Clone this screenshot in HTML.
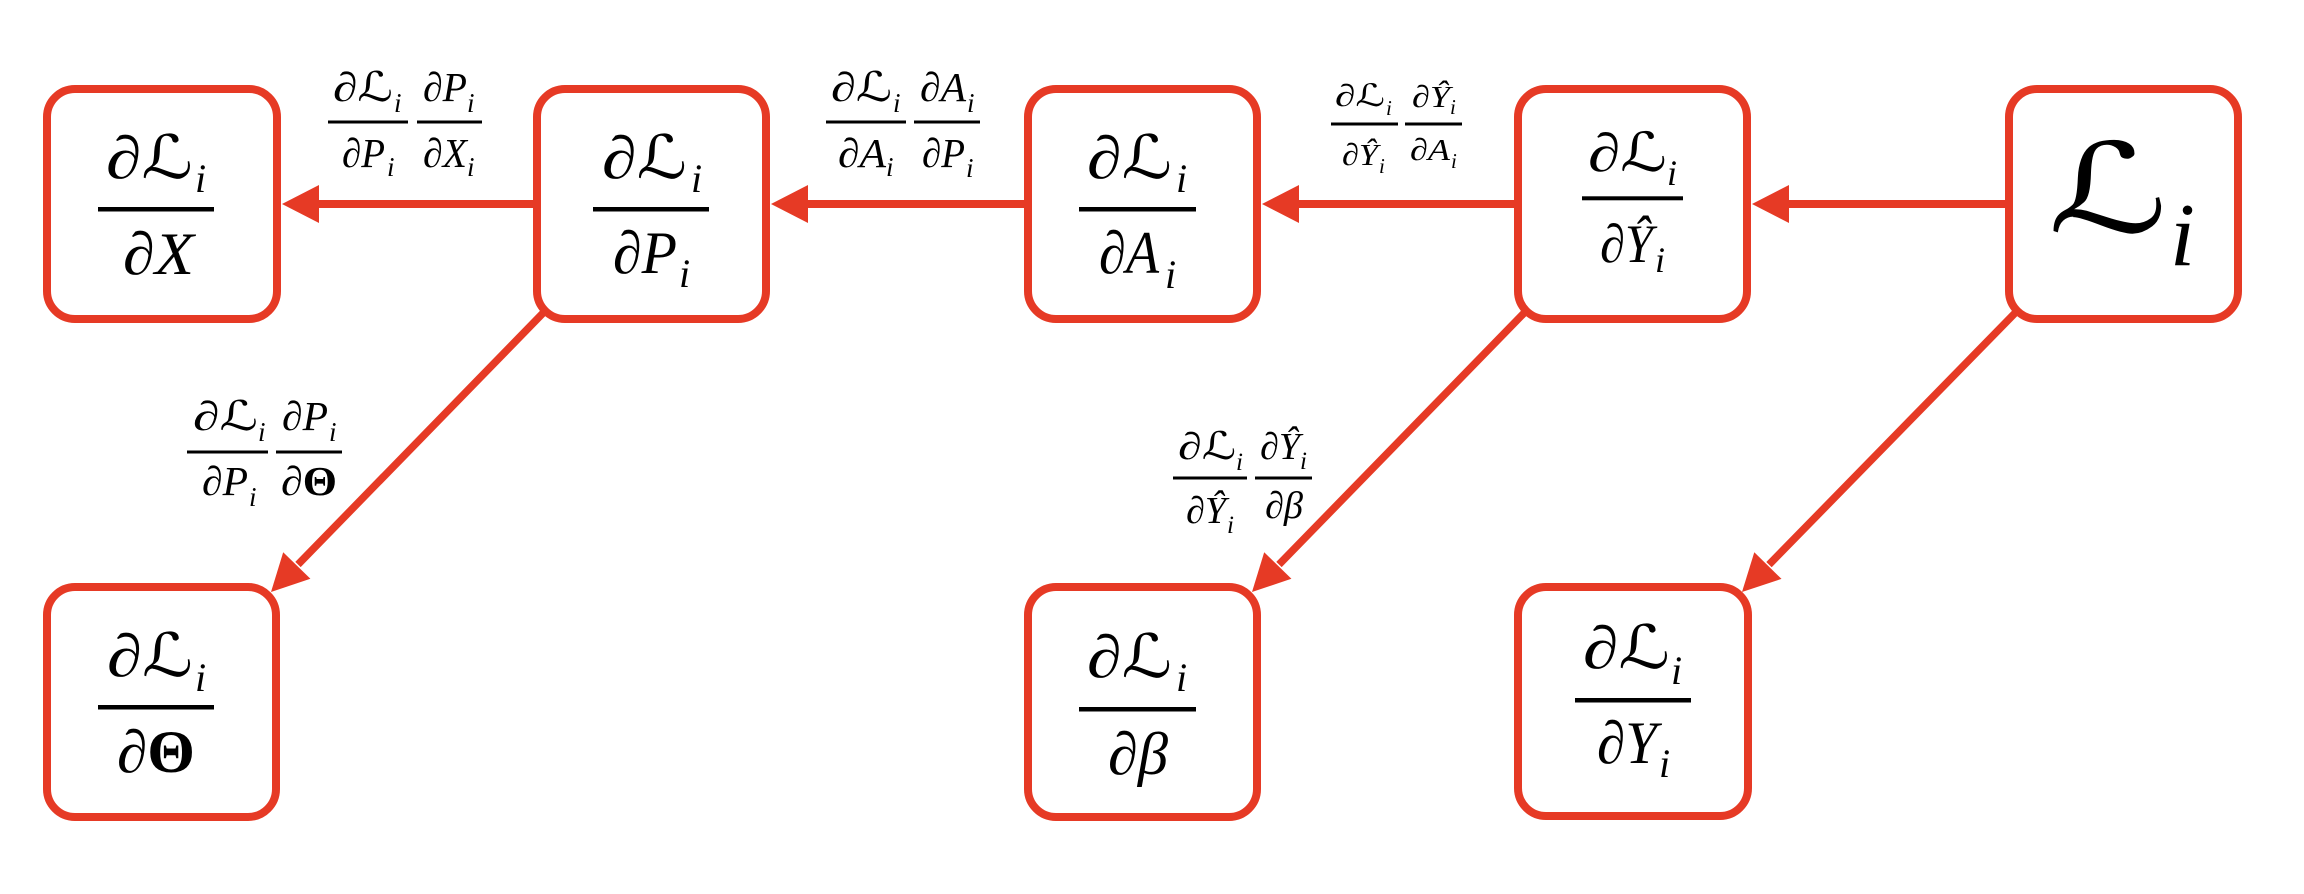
<!DOCTYPE html>
<html>
<head>
<meta charset="utf-8">
<style>
  html, body { margin:0; padding:0; background:#ffffff; }
  body { width:2304px; height:894px; overflow:hidden; }
  svg { display:block; }
  .m { font-family:"Liberation Serif","DejaVu Serif","DejaVu Sans",serif; font-style:italic; fill:#000; }
  .b { font-style:normal; font-weight:bold; }
  .s { font-family:"Liberation Serif","DejaVu Serif","DejaVu Sans",serif; font-style:normal; fill:#000; }
</style>
</head>
<body>
<svg width="2304" height="894" viewBox="0 0 2304 894" xmlns="http://www.w3.org/2000/svg">
  <rect x="0" y="0" width="2304" height="894" fill="#ffffff"/>

  <!-- ===== connectors ===== -->
  <g fill="#E63A25" stroke="none">
    <!-- horizontal arrows -->
    <rect x="318" y="200" width="220" height="8"/>
    <polygon points="282,204 319,185 319,223"/>
    <rect x="807" y="200" width="222" height="8"/>
    <polygon points="771,204 808,185 808,223"/>
    <rect x="1298" y="200" width="221" height="8"/>
    <polygon points="1262,204 1299,185 1299,223"/>
    <rect x="1788" y="200" width="222" height="8"/>
    <polygon points="1752,204 1789,185 1789,223"/>
    <!-- diagonal heads -->
    <polygon points="271,592 310.4,578.8 283.2,552.2"/>
    <polygon points="1252,592 1291.4,578.8 1264.2,552.2"/>
    <polygon points="1742,592 1781.5,578.9 1754.3,552.3"/>
  </g>
  <g stroke="#E63A25" stroke-width="7.5" fill="none">
    <line x1="546" y1="310" x2="298" y2="564.5"/>
    <line x1="1527" y1="310" x2="1279" y2="564.5"/>
    <line x1="2018" y1="310" x2="1769" y2="564.6"/>
  </g>

  <!-- ===== boxes ===== -->
  <g fill="#ffffff" stroke="#E63A25" stroke-width="8">
    <rect x="47" y="89" width="230" height="230" rx="28" ry="28"/>
    <rect x="537" y="89" width="229" height="230" rx="28" ry="28"/>
    <rect x="1028" y="89" width="229" height="230" rx="28" ry="28"/>
    <rect x="1518" y="89" width="229" height="230" rx="28" ry="28"/>
    <rect x="2009" y="89" width="229" height="230" rx="28" ry="28"/>
    <rect x="47" y="587" width="229" height="230" rx="28" ry="28"/>
    <rect x="1028" y="587" width="229" height="230" rx="28" ry="28"/>
    <rect x="1518" y="587" width="230" height="229" rx="28" ry="28"/>
  </g>

  <!-- ===== box contents ===== -->
  <g fill="#000">
    <!-- A: dL/dX -->
    <text class="m" x="106" y="178" font-size="60" textLength="87" lengthAdjust="spacingAndGlyphs">∂ℒ</text>
    <text class="m" x="195" y="192" font-size="40">i</text>
    <rect x="98" y="207" width="116" height="4.5"/>
    <text class="m" x="123" y="274" font-size="60" textLength="71" lengthAdjust="spacingAndGlyphs">∂X</text>

    <!-- B: dL/dP_i -->
    <text class="m" x="602" y="178" font-size="60" textLength="85" lengthAdjust="spacingAndGlyphs">∂ℒ</text>
    <text class="m" x="691" y="192" font-size="40">i</text>
    <rect x="593" y="207" width="116" height="4.5"/>
    <text class="m" x="613" y="273" font-size="60" textLength="64" lengthAdjust="spacingAndGlyphs">∂P</text>
    <text class="m" x="679" y="287" font-size="40">i</text>

    <!-- C: dL/dA_i -->
    <text class="m" x="1087" y="178" font-size="60" textLength="85" lengthAdjust="spacingAndGlyphs">∂ℒ</text>
    <text class="m" x="1176" y="192" font-size="40">i</text>
    <rect x="1079" y="207" width="117" height="4.5"/>
    <text class="m" x="1099" y="273" font-size="60" textLength="60" lengthAdjust="spacingAndGlyphs">∂A</text>
    <text class="m" x="1165" y="288" font-size="40">i</text>

    <!-- D: dL/dYhat_i -->
    <text class="m" x="1588" y="171" font-size="54" textLength="79" lengthAdjust="spacingAndGlyphs">∂ℒ</text>
    <text class="m" x="1667" y="185" font-size="36">i</text>
    <rect x="1582" y="196.3" width="101" height="4"/>
    <text class="m" x="1600" y="262" font-size="54" textLength="53" lengthAdjust="spacingAndGlyphs">∂Ŷ</text>
    <text class="m" x="1655" y="272" font-size="36">i</text>

    <!-- E: L_i -->
    <text class="s" x="2048" y="232" font-size="124" textLength="120" lengthAdjust="spacingAndGlyphs">ℒ</text>
    <text class="m" x="2170" y="265" font-size="90">i</text>

    <!-- F: dL/dTheta -->
    <text class="m" x="107" y="676" font-size="60" textLength="86" lengthAdjust="spacingAndGlyphs">∂ℒ</text>
    <text class="m" x="195" y="691" font-size="40">i</text>
    <rect x="98" y="705" width="116" height="4.5"/>
    <text class="m" x="117" y="772" font-size="60" textLength="78" lengthAdjust="spacingAndGlyphs">∂<tspan class="b">Θ</tspan></text>

    <!-- G: dL/dbeta -->
    <text class="m" x="1087" y="677" font-size="60" textLength="85" lengthAdjust="spacingAndGlyphs">∂ℒ</text>
    <text class="m" x="1176" y="691" font-size="40">i</text>
    <rect x="1079" y="707" width="117" height="4.5"/>
    <text class="m" x="1108" y="774" font-size="60" textLength="60" lengthAdjust="spacingAndGlyphs">∂β</text>

    <!-- H: dL/dY_i -->
    <text class="m" x="1583" y="668" font-size="60" textLength="87" lengthAdjust="spacingAndGlyphs">∂ℒ</text>
    <text class="m" x="1671" y="684" font-size="40">i</text>
    <rect x="1575" y="698" width="116" height="4.5"/>
    <text class="m" x="1597" y="763" font-size="60" textLength="60" lengthAdjust="spacingAndGlyphs">∂Y</text>
    <text class="m" x="1659" y="777" font-size="40">i</text>
  </g>

  <!-- ===== edge labels ===== -->
  <g fill="#000">
    <!-- B -> A : dL/dP_i dP_i/dX_i -->
    <text class="m" x="333" y="101" font-size="41" textLength="60" lengthAdjust="spacingAndGlyphs">∂ℒ</text>
    <text class="m" x="394" y="112" font-size="27">i</text>
    <rect x="328" y="120.5" width="80" height="3"/>
    <text class="m" x="342" y="167" font-size="41" textLength="43" lengthAdjust="spacingAndGlyphs">∂P</text>
    <text class="m" x="387" y="176" font-size="27">i</text>
    <text class="m" x="423" y="101" font-size="41" textLength="44" lengthAdjust="spacingAndGlyphs">∂P</text>
    <text class="m" x="467" y="112" font-size="27">i</text>
    <rect x="417" y="120.5" width="65" height="3"/>
    <text class="m" x="423" y="167" font-size="41" textLength="44" lengthAdjust="spacingAndGlyphs">∂X</text>
    <text class="m" x="467" y="176" font-size="27">i</text>

    <!-- C -> B : dL/dA_i dA_i/dP_i -->
    <text class="m" x="831" y="101" font-size="41" textLength="61" lengthAdjust="spacingAndGlyphs">∂ℒ</text>
    <text class="m" x="893" y="112" font-size="27">i</text>
    <rect x="826" y="120.5" width="80" height="3"/>
    <text class="m" x="838" y="167" font-size="41" textLength="48" lengthAdjust="spacingAndGlyphs">∂A</text>
    <text class="m" x="886" y="176" font-size="27">i</text>
    <text class="m" x="920" y="101" font-size="41" textLength="46" lengthAdjust="spacingAndGlyphs">∂A</text>
    <text class="m" x="967" y="112" font-size="27">i</text>
    <rect x="914" y="120.5" width="66" height="3"/>
    <text class="m" x="922" y="167" font-size="41" textLength="43" lengthAdjust="spacingAndGlyphs">∂P</text>
    <text class="m" x="966" y="177" font-size="27">i</text>

    <!-- D -> C : dL/dYhat_i dYhat_i/dA_i -->
    <text class="m" x="1335" y="106" font-size="31" textLength="50" lengthAdjust="spacingAndGlyphs">∂ℒ</text>
    <text class="m" x="1386" y="115" font-size="21">i</text>
    <rect x="1331" y="122.5" width="67" height="3"/>
    <text class="m" x="1342" y="165" font-size="31" textLength="36" lengthAdjust="spacingAndGlyphs">∂Ŷ</text>
    <text class="m" x="1379" y="173" font-size="21">i</text>
    <text class="m" x="1412" y="107" font-size="31" textLength="38" lengthAdjust="spacingAndGlyphs">∂Ŷ</text>
    <text class="m" x="1450" y="114" font-size="21">i</text>
    <rect x="1405" y="122.5" width="57" height="3"/>
    <text class="m" x="1410" y="160" font-size="31" textLength="40" lengthAdjust="spacingAndGlyphs">∂A</text>
    <text class="m" x="1451" y="168" font-size="21">i</text>

    <!-- B -> F : dL/dP_i dP_i/dTheta -->
    <text class="m" x="193" y="430" font-size="41" textLength="65" lengthAdjust="spacingAndGlyphs">∂ℒ</text>
    <text class="m" x="258" y="441" font-size="27">i</text>
    <rect x="187" y="450.5" width="81" height="3"/>
    <text class="m" x="202" y="495" font-size="41" textLength="46" lengthAdjust="spacingAndGlyphs">∂P</text>
    <text class="m" x="249" y="506" font-size="27">i</text>
    <text class="m" x="282" y="430" font-size="41" textLength="46" lengthAdjust="spacingAndGlyphs">∂P</text>
    <text class="m" x="329" y="441" font-size="27">i</text>
    <rect x="276" y="450.5" width="66" height="3"/>
    <text class="m" x="281" y="495" font-size="41" textLength="56" lengthAdjust="spacingAndGlyphs">∂<tspan class="b">Θ</tspan></text>

    <!-- D -> G : dL/dYhat_i dYhat_i/dbeta -->
    <text class="m" x="1178" y="459" font-size="38" textLength="58" lengthAdjust="spacingAndGlyphs">∂ℒ</text>
    <text class="m" x="1236" y="470" font-size="25">i</text>
    <rect x="1173" y="476.5" width="74" height="3"/>
    <text class="m" x="1186" y="523" font-size="38" textLength="40" lengthAdjust="spacingAndGlyphs">∂Ŷ</text>
    <text class="m" x="1227" y="533" font-size="25">i</text>
    <text class="m" x="1260" y="459" font-size="38" textLength="40" lengthAdjust="spacingAndGlyphs">∂Ŷ</text>
    <text class="m" x="1300" y="469" font-size="25">i</text>
    <rect x="1255" y="476.5" width="57" height="3"/>
    <text class="m" x="1265" y="518" font-size="38" textLength="38" lengthAdjust="spacingAndGlyphs">∂β</text>
  </g>
</svg>
</body>
</html>
